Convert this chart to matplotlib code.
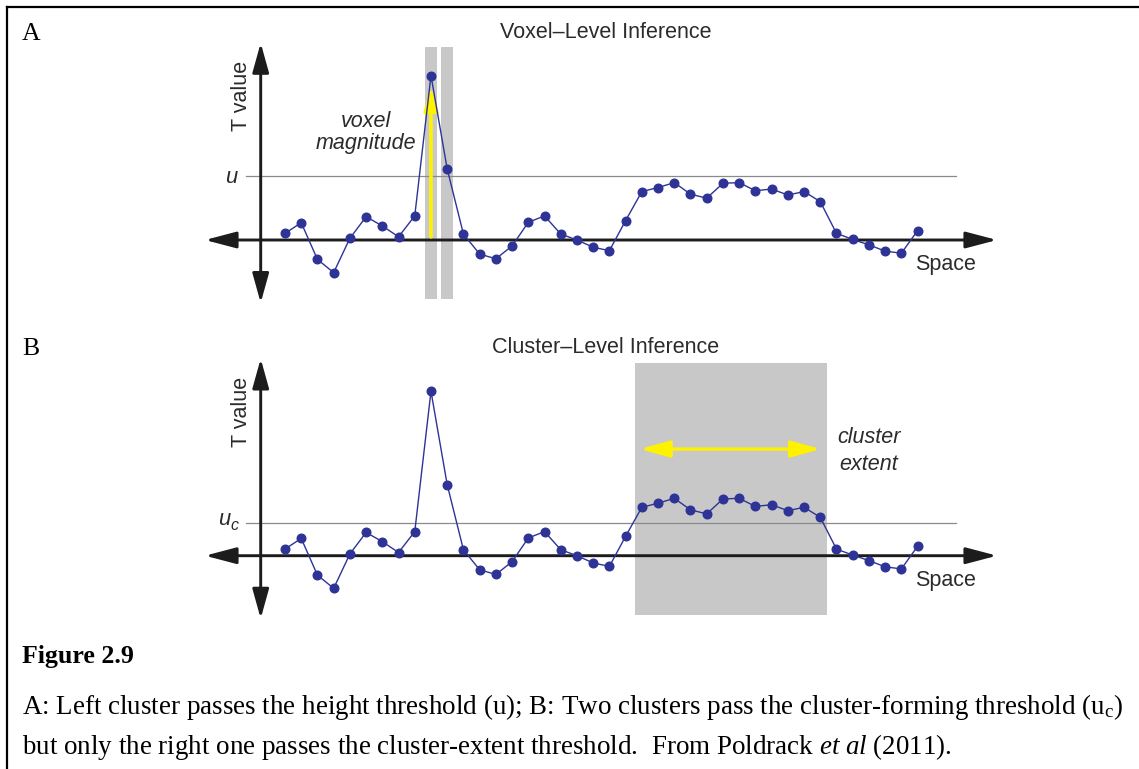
import matplotlib
matplotlib.use("Agg")

import matplotlib.pyplot as plt
from matplotlib.lines import Line2D

plt.rcParams["mathtext.fontset"] = "custom"
plt.rcParams["mathtext.rm"] = "Liberation Serif"
plt.rcParams["mathtext.it"] = "Liberation Serif:italic"

# T value of each voxel along one line through the brain (same profile in A and B)
t_values = [0.31, 0.81, -0.91, -1.53, 0.08, 1.09, 0.66, 0.15, 1.13, 7.71,
            3.33, 0.28, -0.66, -0.88, -0.28, 0.83, 1.13, 0.28, 0.00, -0.34,
            -0.50, 0.91, 2.27, 2.46, 2.69, 2.15, 1.96, 2.66, 2.69, 2.31,
            2.39, 2.11, 2.27, 1.80, 0.31, 0.03, -0.23, -0.52, -0.62, 0.44]
voxels = list(range(len(t_values)))

height_threshold = 3.0    # u
cluster_threshold = 1.55  # u_c
min_extent = 5            # voxels a cluster needs to count

panel_titles = ["Voxel\u2013Level Inference", "Cluster\u2013Level Inference"]
panel_letters = ["A", "B"]

caption_title = "Figure 2.9"
caption_lines = [
    r"A: Left cluster passes the height threshold (u); B: Two clusters pass "
    r"the cluster-forming threshold (u$_\mathrm{c}$)",
    r"but only the right one passes the cluster-extent threshold.  "
    r"From Poldrack $\mathit{et\ al}$ (2011).",
]

BLUE = "#2e3396"
GREY_BOX = "#c8c8c8"
YELLOW = "#fff200"
INK = "#1c1c1c"
TXT = "#2b2b2b"
SANS = "Liberation Sans"
SERIF = "Liberation Serif"

# page layout in pixels
W, H = 1139, 769
X0, DX = 285.0, 16.22   # pixel of voxel 0, pixels per voxel
SY = 21.33              # pixels per T unit
AXIS_ROW = [240.0, 555.7]


def fx(x):
    return x / W


def fy(y):
    return 1 - y / H


def above(ts, thr):
    # contiguous runs of voxels over the threshold
    runs, cur = [], []
    for i, t in enumerate(ts):
        if t > thr:
            cur.append(i)
        elif cur:
            runs.append(cur)
            cur = []
    if cur:
        runs.append(cur)
    return runs


def arrow(ax, start, end, color, lw, hl, hw, both=False):
    style = "<|-|>" if both else "-|>"
    ax.annotate("", xy=end, xytext=start, annotation_clip=False,
                arrowprops=dict(arrowstyle=f"{style},head_length={hl},head_width={hw}",
                                color=color, lw=lw, shrinkA=0, shrinkB=0,
                                mutation_scale=1))


def add_panel(fig, axis_y):
    left, right = 195, 1005
    top, bottom = axis_y - 202, axis_y + 70
    ax = fig.add_axes([fx(left), fy(bottom), (right - left) / W, (bottom - top) / H])
    ax.set_xlim((left - X0) / DX, (right - X0) / DX)
    ax.set_ylim((axis_y - bottom) / SY, (axis_y - top) / SY)
    ax.axis("off")

    # coordinate axes with arrow heads
    yx = (260.7 - X0) / DX
    arrow(ax, (yx, -2.95), (yx, 9.24), INK, 2.1, 18, 5.0, both=True)
    arrow(ax, ((205 - X0) / DX, 0), ((997 - X0) / DX, 0), INK, 2.1, 19, 5.0, both=True)
    return ax


fig = plt.figure(figsize=(W / 100, H / 100), dpi=100)

for k, axis_y in enumerate(AXIS_ROW):
    ax = add_panel(fig, axis_y)
    thr = height_threshold if k == 0 else cluster_threshold
    runs = above(t_values, thr)

    # threshold line
    ax.plot([(246 - X0) / DX, (956 - X0) / DX], [thr, thr], color="#8a8a8a",
            lw=0.9, zorder=1)

    if k == 0:
        # every voxel over u is significant on its own
        for run in runs:
            for v in run:
                ax.axvspan(v - 0.38, v + 0.38, ymin=0.04, ymax=0.966,
                           color=GREY_BOX, lw=0, zorder=0)
        peak = max(voxels, key=lambda i: t_values[i])
        arrow(ax, (peak, 0.15), (peak, t_values[peak] - 0.52), YELLOW, 2.6, 14, 4.2)
    else:
        # only clusters big enough survive
        for run in runs:
            if len(run) >= min_extent:
                ax.axvspan(run[0] - 0.42, run[-1] + 0.4, ymin=0.04, ymax=0.966,
                           color=GREY_BOX, lw=0, zorder=0)
                arrow(ax, (run[0] - 0.12, 5.0), (run[-1] + 0.03, 5.0), YELLOW, 2.4,
                      18, 5.0, both=True)

    ax.plot(voxels, t_values, color=BLUE, lw=1.0, marker="o", ms=6.2,
            mec=BLUE, mfc=BLUE, zorder=5)

    off = axis_y - AXIS_ROW[0]
    fig.text(fx(22), fy(39.5 + off), panel_letters[k], family=SERIF, size=18.5,
             color="black", va="baseline")
    fig.text(fx(606), fy(37.5 + off), panel_titles[k], family=SANS, size=15.5,
             color=TXT, ha="center", va="baseline")
    fig.text(fx(241.5), fy(axis_y - 144), "T value", family=SANS, size=15.5,
             color=TXT, rotation=90, ha="center", va="center")
    fig.text(fx(915), fy(axis_y + 30), "Space", family=SANS, size=15.5,
             color=TXT, ha="left", va="baseline")

    thr_y = axis_y - thr * SY
    if k == 0:
        fig.text(fx(231), fy(thr_y + 7.3), "u", family=SANS, style="italic",
                 size=15.8, color=TXT, ha="center", va="baseline")
        fig.text(fx(365.5), fy(127.3), "voxel", family=SANS, style="italic",
                 size=15.5, color=TXT, ha="center", va="baseline")
        fig.text(fx(366), fy(149.5), "magnitude", family=SANS, style="italic",
                 size=15.5, color=TXT, ha="center", va="baseline")
    else:
        fig.text(fx(224.5), fy(thr_y + 2.3), "u", family=SANS, style="italic",
                 size=15.8, color=TXT, ha="center", va="baseline")
        fig.text(fx(234.5), fy(thr_y + 7.3), "c", family=SANS, style="italic",
                 size=11.5, color=TXT, ha="center", va="baseline")
        fig.text(fx(869), fy(443.3), "cluster", family=SANS, style="italic",
                 size=15.5, color=TXT, ha="center", va="baseline")
        fig.text(fx(868.5), fy(470), "extent", family=SANS, style="italic",
                 size=15.5, color=TXT, ha="center", va="baseline")

# caption
fig.text(fx(22), fy(663), caption_title, family=SERIF, weight="bold", size=18.6,
         color="black", va="baseline")
for line, base in zip(caption_lines, [714, 754]):
    fig.text(fx(22), fy(base), line, family=SERIF, size=19.45, color="black",
             va="baseline")

# page frame (top and left edges)
fig.add_artist(Line2D([fx(7), fx(W)], [fy(7), fy(7)], color="black", lw=1.6))
fig.add_artist(Line2D([fx(7), fx(7)], [fy(7), fy(H)], color="black", lw=1.6))

fig.savefig("out.png", dpi=100)
